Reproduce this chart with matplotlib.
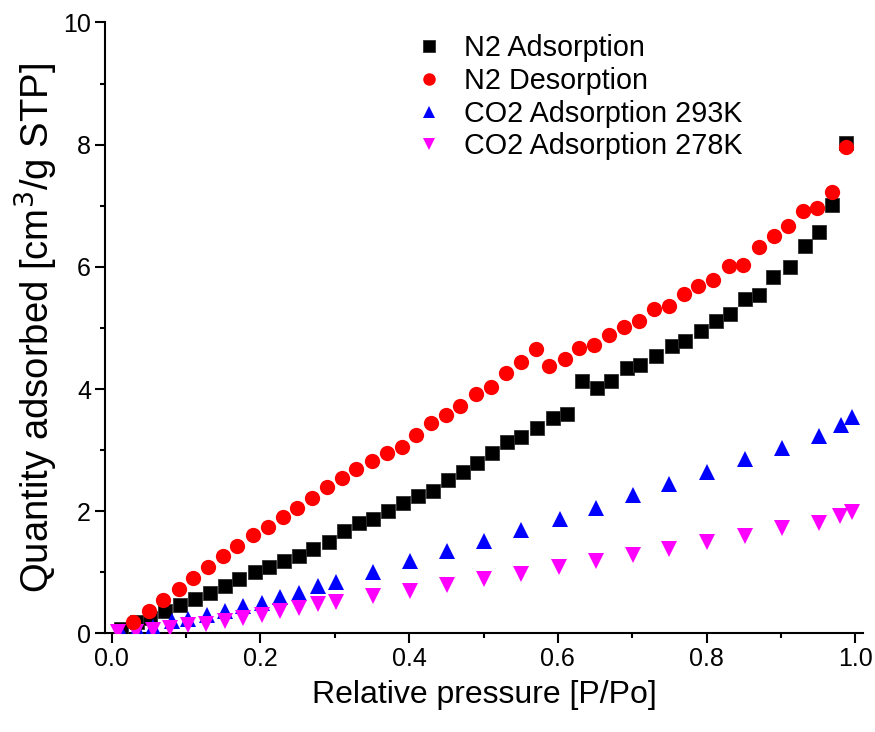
import matplotlib
matplotlib.use("Agg")
import matplotlib.pyplot as plt
from matplotlib.ticker import MultipleLocator

plt.rcParams['font.family'] = ['Liberation Sans', 'DejaVu Sans']

# N2 adsorption
n2_ads_x = [0.012, 0.034, 0.051, 0.072, 0.092, 0.112, 0.132, 0.152, 0.171, 0.193,
            0.211, 0.232, 0.252, 0.271, 0.292, 0.312, 0.333, 0.351, 0.371, 0.392,
            0.412, 0.432, 0.452, 0.472, 0.491, 0.511, 0.531, 0.551, 0.572, 0.593,
            0.612, 0.632, 0.652, 0.671, 0.693, 0.711, 0.732, 0.753, 0.771, 0.793,
            0.813, 0.832, 0.851, 0.871, 0.889, 0.912, 0.932, 0.951, 0.969, 0.988]
n2_ads_y = [0.07, 0.18, 0.26, 0.36, 0.46, 0.57, 0.67, 0.77, 0.89, 1.00,
            1.08, 1.18, 1.26, 1.39, 1.49, 1.67, 1.80, 1.87, 2.00, 2.13,
            2.25, 2.33, 2.51, 2.64, 2.79, 2.95, 3.13, 3.21, 3.36, 3.52,
            3.59, 4.13, 4.02, 4.13, 4.34, 4.39, 4.54, 4.70, 4.79, 4.95,
            5.11, 5.23, 5.48, 5.54, 5.84, 6.00, 6.34, 6.57, 7.02, 8.02]

# N2 desorption
n2_des_x = [0.029, 0.050, 0.069, 0.090, 0.110, 0.130, 0.150, 0.169, 0.190, 0.210,
            0.230, 0.249, 0.270, 0.290, 0.310, 0.329, 0.350, 0.370, 0.390, 0.409,
            0.429, 0.449, 0.469, 0.490, 0.510, 0.530, 0.550, 0.571, 0.588, 0.609,
            0.629, 0.649, 0.669, 0.689, 0.709, 0.729, 0.749, 0.769, 0.788, 0.808,
            0.830, 0.849, 0.871, 0.890, 0.910, 0.929, 0.949, 0.969, 0.988]
n2_des_y = [0.19, 0.36, 0.54, 0.72, 0.91, 1.09, 1.26, 1.43, 1.61, 1.74,
            1.91, 2.06, 2.22, 2.40, 2.55, 2.70, 2.82, 2.96, 3.06, 3.25,
            3.44, 3.58, 3.72, 3.92, 4.04, 4.27, 4.45, 4.65, 4.37, 4.50,
            4.67, 4.72, 4.88, 5.02, 5.12, 5.31, 5.36, 5.56, 5.68, 5.79,
            6.02, 6.03, 6.32, 6.51, 6.67, 6.92, 6.97, 7.22, 7.97]

# CO2 adsorption 293K
co2_293_x = [0.012, 0.034, 0.055, 0.081, 0.103, 0.128, 0.152, 0.177, 0.202, 0.227,
             0.252, 0.277, 0.301, 0.352, 0.401, 0.451, 0.501, 0.551, 0.603, 0.651,
             0.701, 0.750, 0.801, 0.851, 0.901, 0.951, 0.981, 0.996]
co2_293_y = [0.03, 0.07, 0.11, 0.20, 0.23, 0.30, 0.37, 0.45, 0.50, 0.59,
             0.67, 0.77, 0.85, 1.00, 1.18, 1.35, 1.52, 1.70, 1.88, 2.06,
             2.26, 2.44, 2.64, 2.85, 3.04, 3.23, 3.41, 3.54]

# CO2 adsorption 278K
co2_278_x = [0.009, 0.033, 0.055, 0.079, 0.103, 0.127, 0.152, 0.177, 0.202, 0.226,
             0.252, 0.277, 0.302, 0.352, 0.401, 0.451, 0.501, 0.551, 0.601, 0.651,
             0.701, 0.750, 0.801, 0.851, 0.901, 0.951, 0.980, 0.996]
co2_278_y = [0.02, 0.03, 0.05, 0.09, 0.14, 0.15, 0.20, 0.26, 0.31, 0.36,
             0.42, 0.48, 0.52, 0.61, 0.69, 0.79, 0.89, 0.98, 1.08, 1.19,
             1.28, 1.39, 1.50, 1.60, 1.72, 1.81, 1.92, 1.98]

labels = ["N2 Adsorption", "N2 Desorption", "CO2 Adsorption 293K", "CO2 Adsorption 278K"]

fig = plt.figure(figsize=(8.75, 7.32), dpi=100)
ax = fig.add_axes([0.12, 0.1346, 0.866, 0.8347])

ax.plot(n2_ads_x, n2_ads_y, ls='none', marker='s', ms=10, color='black',
        markeredgecolor='#303030', markeredgewidth=0.6, label=labels[0], zorder=3)
ax.plot(n2_des_x, n2_des_y, ls='none', marker='o', ms=11, color='#ff0000',
        markeredgewidth=0, label=labels[1], zorder=4)
ax.plot(co2_293_x, co2_293_y, ls='none', marker='^', ms=12, color='#0000ff',
        markeredgewidth=0, label=labels[2], zorder=3)
ax.plot(co2_278_x, co2_278_y, ls='none', marker='v', ms=12, color='#ff00ff',
        markeredgewidth=0, label=labels[3], zorder=3)

ax.set_xlim(-0.009, 1.01)
ax.set_ylim(0, 10)
ax.xaxis.set_major_locator(MultipleLocator(0.2))
ax.xaxis.set_minor_locator(MultipleLocator(0.1))
ax.yaxis.set_major_locator(MultipleLocator(2))
ax.yaxis.set_minor_locator(MultipleLocator(1))
ax.xaxis.set_major_formatter(plt.FuncFormatter(lambda v, p: f"{v:.1f}"))

for s in ['top', 'right']:
    ax.spines[s].set_visible(False)
for s in ['left', 'bottom']:
    ax.spines[s].set_linewidth(1.5)

ax.tick_params(axis='both', which='major', direction='out', length=7, width=1.5,
               labelsize=18, pad=3)
ax.tick_params(axis='both', which='minor', direction='out', length=3.6, width=1.5)

ax.set_xlabel("Relative pressure [P/Po]", fontsize=23, labelpad=6)
ax.set_ylabel("Quantity adsorbed [cm$^3$/g STP]", fontsize=27.5, labelpad=2)

leg = ax.legend(loc='upper left', bbox_to_anchor=(0.39, 1.005), frameon=False,
                fontsize=20.7, handletextpad=0.7, labelspacing=0.17,
                handlelength=1.0, borderaxespad=0.1)
for h in leg.legend_handles:
    h.set_markersize(9)

fig.savefig("out.png", dpi=100)
